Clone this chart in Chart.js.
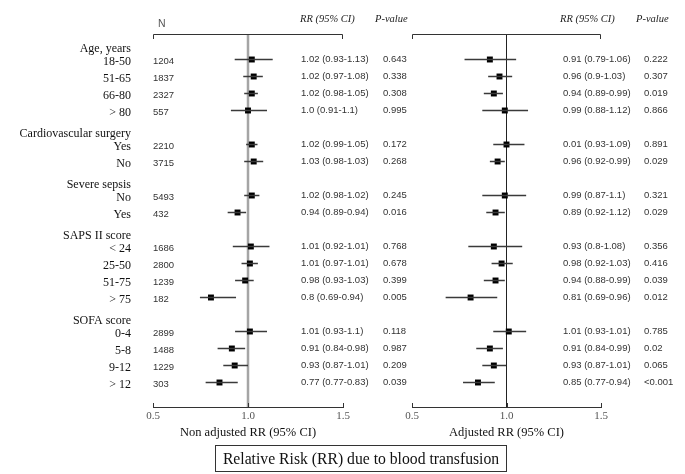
<!DOCTYPE html>
<html>
<head>
<meta charset="utf-8">
<script src="https://cdn.jsdelivr.net/npm/chart.js"></script>
<style>
  body { margin: 0; background: #fff; }
  #wrap { position: relative; width: 685px; height: 474px; }
  canvas { position: absolute; left: 0; top: 0; }
  #caption {
    position: absolute; left: 215px; top: 445px; width: 290px; height: 25px;
    border: 1px solid #333; font: 15.7px "Liberation Serif", serif; color: #111;
    text-align: center; line-height: 25px;
  }
</style>
</head>
<body>
<div id="wrap">
  <canvas id="left" width="685" height="474"></canvas>
  <canvas id="right" width="685" height="474"></canvas>
  <div id="caption">Relative Risk (RR) due to blood transfusion</div>
</div>
<script>
// subgroups
const groups = ["Age, years", "Cardiovascular surgery", "Severe sepsis", "SAPS II score", "SOFA score"];
const subgroups = [
  ["18-50", "51-65", "66-80", "> 80"],
  ["Yes", "No"],
  ["No", "Yes"],
  ["< 24", "25-50", "51-75", "> 75"],
  ["0-4", "5-8", "9-12", "> 12"]
];
const nValues = [1204, 1837, 2327, 557, 2210, 3715, 5493, 432, 1686, 2800, 1239, 182, 2899, 1488, 1229, 303];

// non adjusted (as printed)
const rrText1 = ["1.02 (0.93-1.13)", "1.02 (0.97-1.08)", "1.02 (0.98-1.05)", "1.0 (0.91-1.1)", "1.02 (0.99-1.05)", "1.03 (0.98-1.03)",
  "1.02 (0.98-1.02)", "0.94 (0.89-0.94)", "1.01 (0.92-1.01)", "1.01 (0.97-1.01)", "0.98 (0.93-1.03)", "0.8 (0.69-0.94)",
  "1.01 (0.93-1.1)", "0.91 (0.84-0.98)", "0.93 (0.87-1.01)", "0.77 (0.77-0.83)"];
const pText1 = ["0.643", "0.338", "0.308", "0.995", "0.172", "0.268", "0.245", "0.016", "0.768", "0.678", "0.399", "0.005",
  "0.118", "0.987", "0.209", "0.039"];
// non adjusted (as plotted)
const est1 = [1.02, 1.03, 1.02, 1.0, 1.02, 1.03, 1.02, 0.945, 1.015, 1.01, 0.985, 0.805, 1.01, 0.915, 0.93, 0.85];
const lo1 = [0.93, 0.975, 0.98, 0.91, 0.99, 0.98, 0.98, 0.893, 0.92, 0.966, 0.932, 0.747, 0.932, 0.84, 0.87, 0.777];
const hi1 = [1.13, 1.078, 1.052, 1.10, 1.05, 1.08, 1.06, 0.99, 1.113, 1.052, 1.03, 0.937, 1.10, 0.985, 1.0, 0.946];

// adjusted (as printed)
const rrText2 = ["0.91 (0.79-1.06)", "0.96 (0.9-1.03)", "0.94 (0.89-0.99)", "0.99 (0.88-1.12)", "0.01 (0.93-1.09)", "0.96 (0.92-0.99)",
  "0.99 (0.87-1.1)", "0.89 (0.92-1.12)", "0.93 (0.8-1.08)", "0.98 (0.92-1.03)", "0.94 (0.88-0.99)", "0.81 (0.69-0.96)",
  "1.01 (0.93-1.01)", "0.91 (0.84-0.99)", "0.93 (0.87-1.01)", "0.85 (0.77-0.94)"];
const pText2 = ["0.222", "0.307", "0.019", "0.866", "0.891", "0.029", "0.321", "0.029", "0.356", "0.416", "0.039", "0.012",
  "0.785", "0.02", "0.065", "<0.001"];
// adjusted (as plotted)
const est2 = [0.912, 0.963, 0.933, 0.991, 1.0, 0.953, 0.991, 0.942, 0.933, 0.974, 0.942, 0.81, 1.012, 0.912, 0.933, 0.849];
const lo2 = [0.778, 0.903, 0.88, 0.872, 0.93, 0.912, 0.872, 0.893, 0.798, 0.921, 0.88, 0.678, 0.93, 0.84, 0.872, 0.77];
const hi2 = [1.051, 1.03, 0.981, 1.114, 1.095, 0.991, 1.104, 0.991, 1.083, 1.033, 0.991, 0.951, 1.104, 0.981, 0.998, 0.938];

const xTicks = [0.5, 1.0, 1.5];

// row slots: each group starts two rows after the previous one ends
const slots = [];
const headerSlots = [];
let s = 0;
subgroups.forEach((items, g) => {
  if (g > 0) s += 1;
  headerSlots.push(s - 0.7);
  items.forEach(() => { slots.push(s); s++; });
});
const rowLabels = subgroups.flat();

const SERIF = '"Liberation Serif", "Times New Roman", serif';
const SANS = '"Liberation Sans", Arial, sans-serif';

function forestPlugin(o) {
  return {
    id: 'forest',
    beforeDatasetsDraw(chart) {
      const { ctx, chartArea: a, scales: { x } } = chart;
      ctx.save();
      // reference line at 1.0
      const x1 = x.getPixelForValue(1);
      ctx.strokeStyle = o.refColor;
      ctx.lineWidth = o.refWidth;
      ctx.beginPath(); ctx.moveTo(x1, a.top); ctx.lineTo(x1, a.bottom); ctx.stroke();
      // top bracket and bottom axis
      ctx.strokeStyle = '#333';
      ctx.lineWidth = 1;
      const l = x.getPixelForValue(xTicks[0]), r = x.getPixelForValue(xTicks[xTicks.length - 1]);
      ctx.beginPath();
      ctx.moveTo(l + 0.5, a.top + 5); ctx.lineTo(l + 0.5, a.top + 0.5); ctx.lineTo(r - 0.5, a.top + 0.5); ctx.lineTo(r - 0.5, a.top + 5);
      ctx.moveTo(l, a.bottom - 0.5); ctx.lineTo(r, a.bottom - 0.5);
      xTicks.forEach(t => {
        const px = Math.round(x.getPixelForValue(t)) + 0.5;
        ctx.moveTo(px, a.bottom); ctx.lineTo(px, a.bottom - 5);
      });
      ctx.stroke();
      ctx.restore();
    },
    afterDraw(chart) {
      const { ctx, scales: { y } } = chart;
      ctx.save();
      ctx.textBaseline = 'middle';
      // column headers
      ctx.font = 'italic 10.5px ' + SERIF;
      ctx.fillStyle = '#222';
      ctx.textAlign = 'left';
      ctx.fillText('RR (95% CI)', o.rrHead, 19);
      ctx.fillText('P-value', o.pHead, 19);
      if (o.labels) {
        ctx.font = '10.5px ' + SANS;
        ctx.fillStyle = '#555';
        ctx.fillText('N', o.nX + 5, 24);
        ctx.font = '12px ' + SERIF;
        ctx.fillStyle = '#111';
        ctx.textAlign = 'right';
        groups.forEach((g, i) => ctx.fillText(g, o.labelX, y.getPixelForValue(headerSlots[i]) + 1));
        rowLabels.forEach((t, i) => ctx.fillText(t, o.labelX, y.getPixelForValue(slots[i]) + 2));
        ctx.textAlign = 'left';
        ctx.font = '9.5px ' + SANS;
        ctx.fillStyle = '#333';
        nValues.forEach((n, i) => ctx.fillText(String(n), o.nX, y.getPixelForValue(slots[i]) + 2));
      }
      ctx.textAlign = 'left';
      ctx.font = '9.5px ' + SANS;
      ctx.fillStyle = '#333';
      o.rr.forEach((t, i) => ctx.fillText(t, o.rrX, y.getPixelForValue(slots[i])));
      o.p.forEach((t, i) => ctx.fillText(t, o.pX, y.getPixelForValue(slots[i])));
      ctx.restore();
    }
  };
}

function makeForest(id, est, lo, hi, title, padL, padR, o) {
  const ci = [];
  est.forEach((v, i) => {
    ci.push({ x: lo[i], y: slots[i] }, { x: hi[i], y: slots[i] }, { x: null, y: null });
  });
  new Chart(document.getElementById(id), {
    type: 'scatter',
    data: {
      datasets: [
        { data: ci, showLine: true, spanGaps: false, borderColor: '#3a3a3a', borderWidth: 1.3, pointRadius: 0 },
        { data: est.map((v, i) => ({ x: v, y: slots[i] })), pointStyle: 'rect', pointRadius: 4.2,
          backgroundColor: '#000', borderColor: '#000', borderWidth: 0 }
      ]
    },
    options: {
      responsive: false,
      animation: false,
      events: [],
      layout: { padding: { left: padL, right: padR, top: 34, bottom: 0 } },
      plugins: { legend: { display: false }, tooltip: { enabled: false } },
      scales: {
        x: {
          type: 'linear', min: 0.5, max: 1.5,
          afterBuildTicks: sc => { sc.ticks = xTicks.map(v => ({ value: v })); },
          afterFit: sc => { sc.height = 66; },
          ticks: { callback: v => v.toFixed(1), padding: 2, color: '#555', font: { size: 11, family: SERIF } },
          grid: { display: false, drawTicks: false },
          border: { display: false },
          title: { display: true, text: title, color: '#111', font: { size: 12.5, family: SERIF }, padding: { top: 0, bottom: 33.5 } }
        },
        y: { type: 'linear', reverse: true, min: -1.5, max: 20.5, display: false }
      }
    },
    plugins: [forestPlugin(o)]
  });
}

makeForest('left', est1, lo1, hi1, 'Non adjusted RR (95% CI)', 153, 685 - 343, {
  labels: true, labelX: 131, nX: 153, rrX: 301, pX: 383, rrHead: 300, pHead: 375,
  rr: rrText1, p: pText1, refColor: '#a5a5a5', refWidth: 2.5
});
makeForest('right', est2, lo2, hi2, 'Adjusted RR (95% CI)', 412, 685 - 601, {
  labels: false, rrX: 563, pX: 644, rrHead: 560, pHead: 636,
  rr: rrText2, p: pText2, refColor: '#222', refWidth: 1
});
</script>
</body>
</html>
